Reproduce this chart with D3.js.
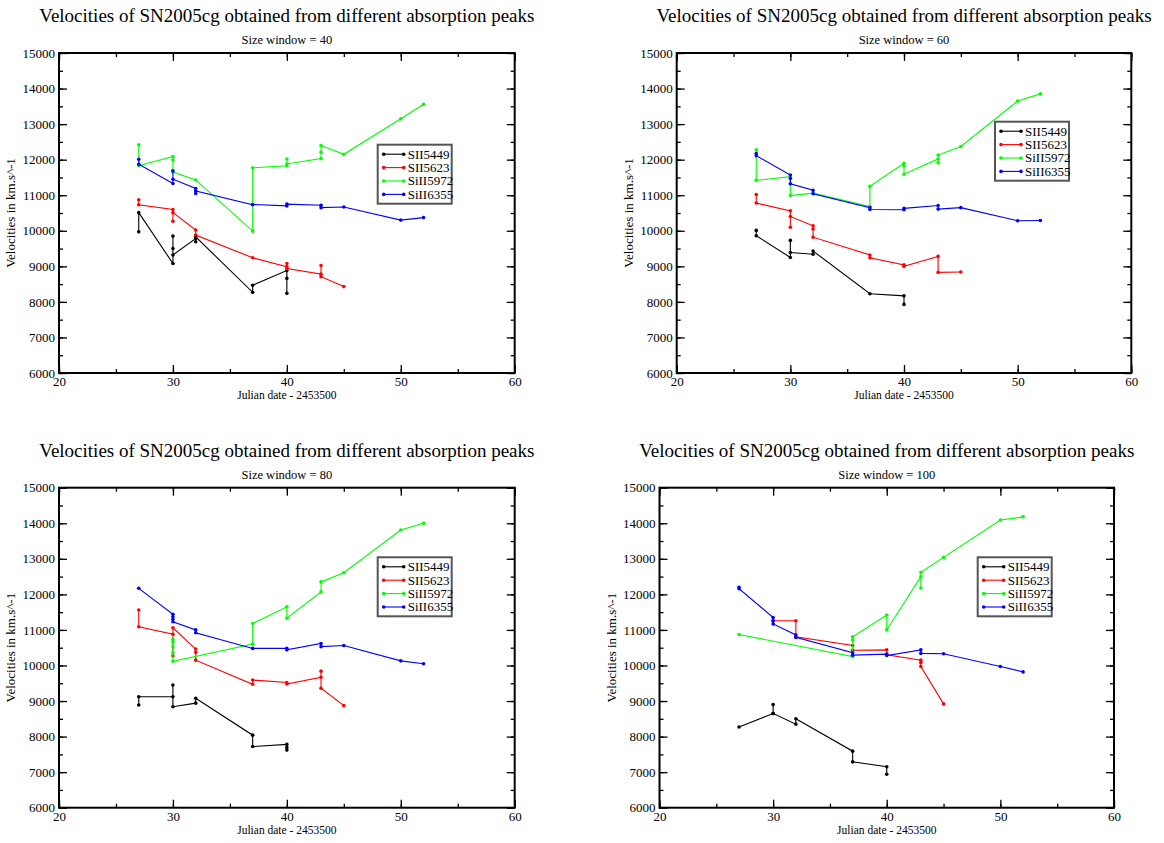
<!DOCTYPE html>
<html><head><meta charset="utf-8">
<script src="https://d3js.org/d3.v7.min.js"></script>
<style>body{margin:0;background:#fff}svg{display:block}text{font-family:"Liberation Serif","Times New Roman",serif}</style>
</head><body>
<script>
// ---- data ----
const seriesNames = ["SII5449","SII5623","SiII5972","SiII6355"];
const seriesColors = ["#000000","#ff0000","#00ff00","#0000ff"];
const windows = [40,60,80,100];
const xTicks = [20,30,40,50,60];
const yTicks = [6000,7000,8000,9000,10000,11000,12000,13000,14000,15000];

// window 40
const w40_SII5449 = [[27,9970],[27,10510],[30,9080],[30,9850],[30,9500],[30,9320],[32,9780],[32,9690],[32,9830],[37,8270],[37,8470],[40,8880],[40,8660],[40,8240]];
const w40_SII5623 = [[27,10870],[27,10730],[30,10600],[30,10270],[30,10510],[32,10020],[32,9880],[37,9240],[40,8990],[40,9080],[40,8940],[43,8780],[43,9020],[43,8710],[45,8430]];
const w40_SiII5972 = [[27,12420],[27,11830],[30,12090],[30,11990],[30,11650],[32,11430],[37,9990],[37,11770],[40,11830],[40,12020],[40,11880],[43,12030],[43,12210],[43,12400],[45,12150],[50,13150],[52,13560]];
const w40_SiII6355 = [[27,12010],[27,11870],[30,11330],[30,11690],[30,11450],[32,11190],[32,11050],[32,11120],[37,10730],[37,10740],[40,10700],[40,10750],[43,10720],[43,10650],[45,10670],[50,10300],[52,10370]];
// window 60
const w60_SII5449 = [[27,10010],[27,9860],[30,9250],[30,9730],[30,9390],[32,9340],[32,9430],[37,8230],[40,8170],[40,7930]];
const w60_SII5623 = [[27,11020],[27,10780],[30,10560],[30,10100],[30,10400],[32,10140],[32,10050],[32,9820],[37,9320],[37,9240],[40,9040],[40,9000],[43,9280],[43,8830],[45,8840]];
const w60_SiII5972 = [[27,12280],[27,11420],[30,11520],[30,10990],[32,11060],[37,10680],[37,11250],[40,11900],[40,11830],[40,11590],[43,12020],[43,11910],[43,12130],[45,12370],[50,13650],[52,13850]];
const w60_SiII6355 = [[27,12170],[27,12110],[30,11570],[30,11470],[30,11320],[32,11140],[32,11040],[37,10650],[37,10600],[40,10590],[40,10630],[43,10710],[43,10610],[45,10650],[50,10280],[52,10290]];
// window 80
const w80_SII5449 = [[27,8890],[27,9120],[30,9120],[30,9450],[30,8840],[32,8940],[32,9080],[37,8040],[37,7720],[40,7780],[40,7690],[40,7620]];
const w80_SII5623 = [[27,11560],[27,11090],[30,10880],[30,10270],[30,11060],[32,10460],[32,10370],[32,10150],[37,9470],[37,9590],[40,9520],[40,9480],[43,9670],[43,9840],[43,9360],[45,8870]];
const w80_SiII5972 = [[30,10730],[30,10670],[30,10530],[30,10360],[30,10120],[37,10600],[37,11180],[40,11650],[40,11330],[43,12070],[43,12350],[45,12610],[50,13810],[52,14000]];
const w80_SiII6355 = [[27,12170],[30,11440],[30,11370],[30,11300],[30,11230],[32,11000],[32,10920],[37,10480],[40,10480],[40,10440],[43,10620],[43,10530],[45,10560],[50,10130],[52,10050]];
// window 100
const w100_SII5449 = [[27,8270],[30,8650],[30,8900],[30,8650],[32,8350],[32,8500],[37,7590],[37,7290],[40,7150],[40,6940]];
const w100_SII5623 = [[30,11260],[32,11260],[32,10810],[37,10560],[37,10430],[40,10440],[40,10300],[43,10150],[43,10080],[43,9970],[45,8920]];
const w100_SiII5972 = [[27,10870],[37,10250],[37,10720],[37,10810],[40,11420],[40,11000],[43,12500],[43,12180],[43,12620],[45,13040],[50,14090],[52,14180]];
const w100_SiII6355 = [[27,12200],[27,12160],[30,11350],[30,11260],[30,11170],[32,10860],[32,10790],[37,10360],[37,10290],[40,10320],[40,10280],[43,10440],[43,10340],[45,10330],[50,9970],[52,9820]];

const panelData = [
  [w40_SII5449,w40_SII5623,w40_SiII5972,w40_SiII6355],
  [w60_SII5449,w60_SII5623,w60_SiII5972,w60_SiII6355],
  [w80_SII5449,w80_SII5623,w80_SiII5972,w80_SiII6355],
  [w100_SII5449,w100_SII5623,w100_SiII5972,w100_SiII6355]
];

// ---- layout ----
const W = 1164, H = 843;
const frames = [
  {l:59, t:53, r:514.7, b:373, lx:377.7, ly:144.7},
  {l:676.7, t:53, r:1131.3, b:373, lx:995, ly:121.7},
  {l:59, t:487.7, r:514.7, b:807.7, lx:377.7, ly:557.3},
  {l:659.5, t:487.7, r:1114, b:807.7, lx:977.7, ly:557.3}
];

const svg = d3.select("body").append("svg").attr("width",W).attr("height",H);

frames.forEach((f,pi) => {
  const g = svg.append("g");
  const x = d3.scaleLinear().domain([20,60]).range([f.l,f.r]);
  const y = d3.scaleLinear().domain([6000,15000]).range([f.b,f.t]);
  const cx = (f.l+f.r)/2;

  // titles
  g.append("text").attr("x",cx).attr("y",f.t-31).attr("text-anchor","middle")
    .attr("font-size",19).text("Velocities of SN2005cg obtained from different absorption peaks");
  g.append("text").attr("x",cx).attr("y",f.t-9).attr("text-anchor","middle")
    .attr("font-size",12.5).text("Size window = " + windows[pi]);
  g.append("text").attr("x",cx).attr("y",f.b+26).attr("text-anchor","middle")
    .attr("font-size",11.5).text("Julian date - 2453500");
  g.append("text").attr("transform",`translate(${f.l-44},${(f.t+f.b)/2}) rotate(-90)`)
    .attr("text-anchor","middle").attr("font-size",13).text("Velocities in km.s^-1");

  // axes (inward ticks)
  const minorX = d3.range(20,61,5), minorY = d3.range(6000,15001,500);
  const bx = g.append("g").attr("transform",`translate(0,${f.b})`)
    .call(d3.axisBottom(x).tickValues(xTicks).tickSize(-8).tickPadding(12).tickFormat(d3.format("d")));
  const bxm = g.append("g").attr("transform",`translate(0,${f.b})`)
    .call(d3.axisBottom(x).tickValues(minorX).tickSize(-4).tickFormat(""));
  const tx = g.append("g").attr("transform",`translate(0,${f.t})`)
    .call(d3.axisTop(x).tickValues(xTicks).tickSize(-8).tickFormat(""));
  const txm = g.append("g").attr("transform",`translate(0,${f.t})`)
    .call(d3.axisTop(x).tickValues(minorX).tickSize(-4).tickFormat(""));
  const ly = g.append("g").attr("transform",`translate(${f.l},0)`)
    .call(d3.axisLeft(y).tickValues(yTicks).tickSize(-8).tickPadding(12).tickFormat(d3.format("d")));
  const lym = g.append("g").attr("transform",`translate(${f.l},0)`)
    .call(d3.axisLeft(y).tickValues(minorY).tickSize(-4).tickFormat(""));
  const ry = g.append("g").attr("transform",`translate(${f.r},0)`)
    .call(d3.axisRight(y).tickValues(yTicks).tickSize(-8).tickFormat(""));
  const rym = g.append("g").attr("transform",`translate(${f.r},0)`)
    .call(d3.axisRight(y).tickValues(minorY).tickSize(-4).tickFormat(""));
  [bx,bxm,tx,txm,ly,lym,ry,rym].forEach(a => {
    a.select(".domain").remove();
    a.selectAll(".tick line").attr("stroke","#000").attr("stroke-width",1.3);
    a.selectAll(".tick text").attr("font-size",13).attr("fill","#000")
      .style("font-family","'Liberation Serif',serif");
  });
  bx.selectAll(".tick text").attr("dy","0.71em").attr("y",4);
  ly.selectAll(".tick text").attr("x",-4);

  // frame
  g.append("rect").attr("x",f.l).attr("y",f.t).attr("width",f.r-f.l).attr("height",f.b-f.t)
    .attr("fill","none").attr("stroke","#000").attr("stroke-width",2);

  // series
  const line = d3.line().x(d=>x(d[0])).y(d=>y(d[1]));
  panelData[pi].forEach((s,si) => {
    g.append("path").datum(s).attr("d",line).attr("fill","none")
      .attr("stroke",seriesColors[si]).attr("stroke-width",1.1);
    g.selectAll(null).data(s).enter().append("circle")
      .attr("cx",d=>x(d[0])).attr("cy",d=>y(d[1])).attr("r",1.8)
      .attr("fill",seriesColors[si]);
  });

  // legend
  const lg = g.append("g").attr("transform",`translate(${f.lx},${f.ly})`);
  lg.append("rect").attr("x",0).attr("y",0).attr("width",74).attr("height",59)
    .attr("fill","#fff").attr("stroke","#555").attr("stroke-width",2);
  seriesNames.forEach((n,i) => {
    const yy = 9.5 + i*13.4;
    lg.append("line").attr("x1",6).attr("x2",26).attr("y1",yy).attr("y2",yy)
      .attr("stroke",seriesColors[i]).attr("stroke-width",1.1);
    [6,26].forEach(px => lg.append("circle").attr("cx",px).attr("cy",yy).attr("r",1.8).attr("fill",seriesColors[i]));
    lg.append("text").attr("x",30).attr("y",yy+4.5).attr("font-size",13).text(n);
  });
});
</script>
</body></html>
